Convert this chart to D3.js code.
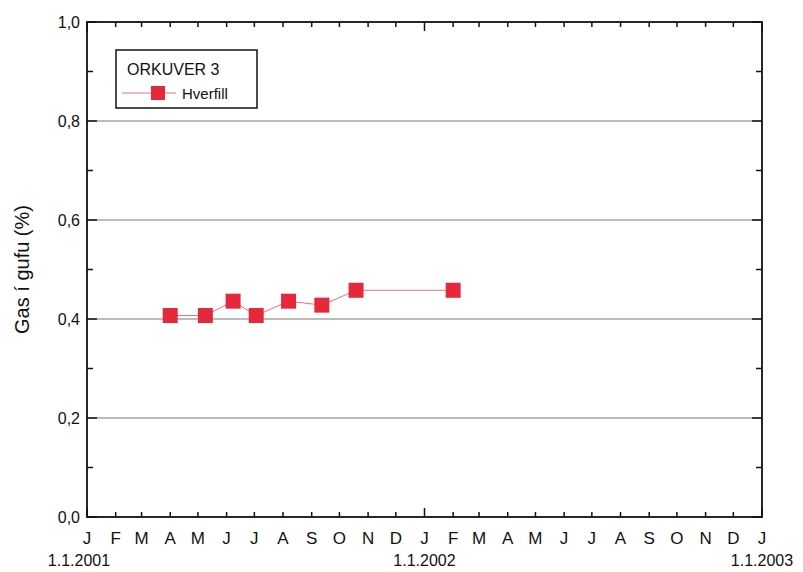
<!DOCTYPE html>
<html>
<head>
<meta charset="utf-8">
<script src="https://cdn.jsdelivr.net/npm/d3@7"></script>
<style>
  body { margin: 0; background: #fff; }
  svg text { font-family: "Liberation Sans", Arial, sans-serif; fill: #111; }
</style>
</head>
<body>
<div id="chart"></div>
<script>
// Data
const dates = ["2001-04-01", "2001-05-09", "2001-06-08", "2001-07-03", "2001-08-07", "2001-09-12", "2001-10-19", "2002-02-01"];
const values = [0.407, 0.407, 0.436, 0.407, 0.436, 0.428, 0.458, 0.458];
const monthLabels = ["J", "F", "M", "A", "M", "J", "J", "A", "S", "O", "N", "D"];
const yearLabels = ["1.1.2001", "1.1.2002", "1.1.2003"];
const yTicks = [0, 0.2, 0.4, 0.6, 0.8, 1.0];

const W = 803, H = 572;
const margin = { top: 22, right: 41, bottom: 55, left: 87 };
const width = W - margin.left - margin.right;
const height = H - margin.top - margin.bottom;

const parse = d3.timeParse("%Y-%m-%d");
const data = dates.map((d, i) => ({ date: parse(d), value: values[i] }));

const svg = d3.select("#chart").append("svg")
    .attr("width", W)
    .attr("height", H);

const g = svg.append("g")
    .attr("transform", `translate(${margin.left},${margin.top})`);

const x = d3.scaleTime()
    .domain([new Date(2001, 0, 1), new Date(2003, 0, 1)])
    .range([0, width]);

const y = d3.scaleLinear()
    .domain([0, 1])
    .range([height, 0]);

// gridlines
g.selectAll(".grid")
    .data(yTicks.filter(v => v > 0 && v < 1))
    .enter().append("line")
    .attr("x1", 0).attr("x2", width)
    .attr("y1", d => y(d)).attr("y2", d => y(d))
    .attr("stroke", "#7a7a7a")
    .attr("stroke-width", 1.2);

const months = x.ticks(d3.timeMonth.every(1));
const minorY = d3.range(0.1, 1, 0.2);

// ticks, all pointing inward
function tickLines(sel, list, fn) {
    sel.selectAll(null).data(list).enter().append("line")
        .each(function (d) { d3.select(this).attr("x1", fn(d)[0]).attr("y1", fn(d)[1]).attr("x2", fn(d)[2]).attr("y2", fn(d)[3]); })
        .attr("stroke", "#111").attr("stroke-width", 1.5);
}
const tk = g.append("g");
tickLines(tk, months, d => {
    const len = d.getMonth() === 0 ? 9 : 5;
    return [x(d), height, x(d), height - len];
});
tickLines(tk, months, d => {
    const len = d.getMonth() === 0 ? 9 : 5;
    return [x(d), 0, x(d), len];
});
tickLines(tk, yTicks, d => [0, y(d), 10, y(d)]);
tickLines(tk, minorY, d => [0, y(d), 6, y(d)]);
tickLines(tk, yTicks, d => [width, y(d), width - 10, y(d)]);
tickLines(tk, minorY, d => [width, y(d), width - 6, y(d)]);

// frame
g.append("rect")
    .attr("width", width).attr("height", height)
    .attr("fill", "none")
    .attr("stroke", "#111")
    .attr("stroke-width", 1.8);

// y tick labels
g.selectAll(".ylab")
    .data(yTicks)
    .enter().append("text")
    .attr("x", -7)
    .attr("y", d => y(d))
    .attr("dy", "0.35em")
    .attr("text-anchor", "end")
    .attr("font-size", 16)
    .text(d => d3.format(".1f")(d).replace(".", ","));

// x month labels
g.selectAll(".xlab")
    .data(months)
    .enter().append("text")
    .attr("x", d => x(d))
    .attr("y", height + 27)
    .attr("text-anchor", "middle")
    .attr("font-size", 17)
    .text(d => monthLabels[d.getMonth()]);

// year labels
g.selectAll(".year")
    .data(yearLabels)
    .enter().append("text")
    .attr("x", (d, i) => x(new Date(2001 + i, 0, 1)) + (i === 0 ? -8 : 0))
    .attr("y", height + 49)
    .attr("text-anchor", "middle")
    .attr("font-size", 16)
    .text(d => d);

// y axis title
svg.append("text")
    .attr("transform", `translate(29,${margin.top + height / 2}) rotate(-90)`)
    .attr("text-anchor", "middle")
    .attr("font-size", 20)
    .text("Gas í gufu (%)");

// series line and markers
const red = "#e5293b";
g.append("path")
    .datum(data)
    .attr("fill", "none")
    .attr("stroke", "#e8707c")
    .attr("stroke-width", 1)
    .attr("d", d3.line().x(d => x(d.date)).y(d => y(d.value)));

const sq = 15;
g.selectAll(".pt")
    .data(data)
    .enter().append("rect")
    .attr("x", d => x(d.date) - sq / 2)
    .attr("y", d => y(d.value) - sq / 2)
    .attr("width", sq).attr("height", sq)
    .attr("fill", red);

// legend
const lg = svg.append("g").attr("transform", "translate(116,50)");
lg.append("rect")
    .attr("width", 141).attr("height", 58)
    .attr("fill", "#fff")
    .attr("stroke", "#111")
    .attr("stroke-width", 1.5);
lg.append("text")
    .attr("x", 11).attr("y", 25)
    .attr("font-size", 16)
    .text("ORKUVER 3");
lg.append("line")
    .attr("x1", 6).attr("x2", 60)
    .attr("y1", 43).attr("y2", 43)
    .attr("stroke", "#e8707c");
lg.append("rect")
    .attr("x", 35).attr("y", 36)
    .attr("width", 14).attr("height", 14)
    .attr("fill", red);
lg.append("text")
    .attr("x", 66).attr("y", 49)
    .attr("font-size", 15)
    .text("Hverfill");
</script>
</body>
</html>
